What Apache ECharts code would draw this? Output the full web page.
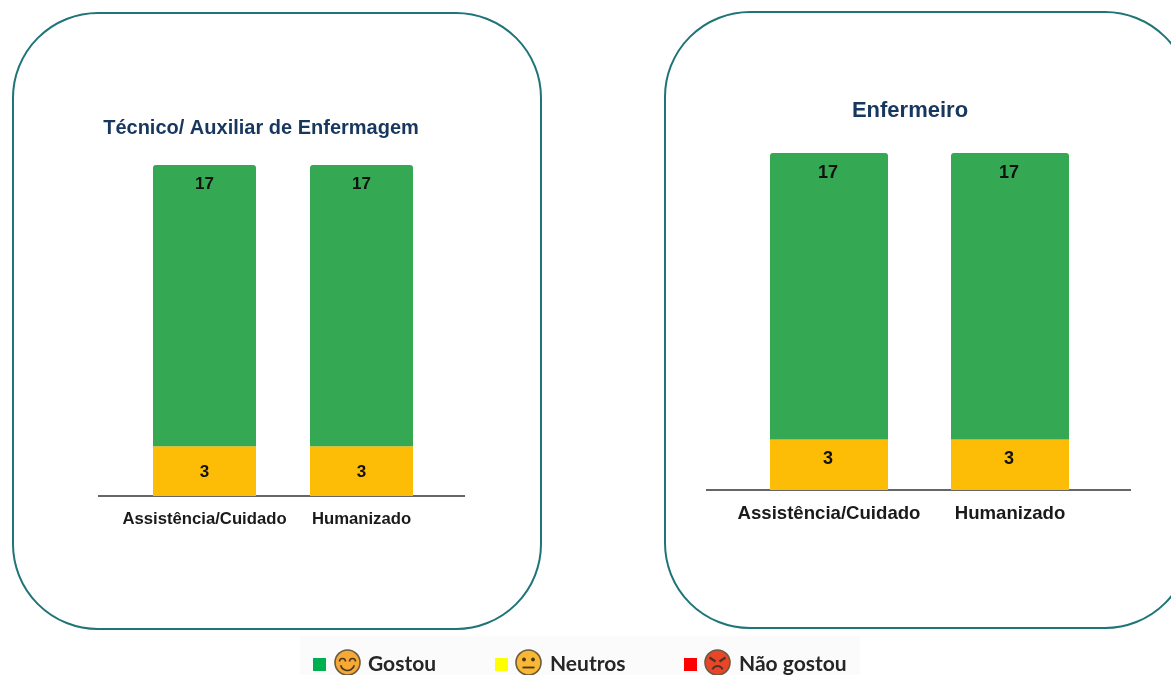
<!DOCTYPE html>
<html><head><meta charset="utf-8">
<style>html,body{margin:0;padding:0;background:#fff}#c{width:1171px;height:675px}</style>
<script src="https://cdn.jsdelivr.net/npm/echarts@6/dist/echarts.min.js"></script>
</head><body><div id="c"></div>
<script>
const categories = ['Assistência/Cuidado', 'Humanizado'];
const titles = ['Técnico/ Auxiliar de Enfermagem', 'Enfermeiro'];
const tecnicoGostou = [17, 17];
const tecnicoNeutros = [3, 3];
const tecnicoNaoGostou = [0, 0];
const enfermeiroGostou = [17, 17];
const enfermeiroNeutros = [3, 3];
const enfermeiroNaoGostou = [0, 0];
const legendNames = ['Gostou', 'Neutros', 'Não gostou'];

const GREEN = '#34a853', AMBER = '#fdbc05';
const panels = [
  {grid:{left:126,width:314,top:165,height:331}, bar:103, font:16.7, lab:17, margin:15, neutralOffset:[0,1], topOffset:[0,0], title:{x:256,y:123,size:20},
   data:[tecnicoNeutros,tecnicoGostou,tecnicoNaoGostou], labelDist:11, base:[98,465,496]},
  {grid:{left:738.5,width:362,top:153,height:337}, bar:118, font:18.6, lab:18, margin:14, neutralOffset:[-1,-6], topOffset:[-1,0], title:{x:905,y:106,size:22},
   data:[enfermeiroNeutros,enfermeiroGostou,enfermeiroNaoGostou], labelDist:11, base:[706,1131,490]}
];

const series = [];
panels.forEach((p,i)=>{
  const common = {type:'bar',stack:'s'+i,xAxisIndex:i,yAxisIndex:i,barWidth:p.bar,silent:true};
  const lab = {show:true,color:'#111',fontFamily:'Liberation Sans',fontWeight:'bold',fontSize:p.lab};
  series.push({...common,name:legendNames[1],data:p.data[0],itemStyle:{color:AMBER},
    label:{...lab,position:'inside',offset:p.neutralOffset}});
  series.push({...common,name:legendNames[0],data:p.data[1],itemStyle:{color:GREEN,borderRadius:[3,3,0,0]},
    label:{...lab,position:'insideTop',distance:p.labelDist,offset:p.topOffset}});
  series.push({...common,name:legendNames[2],data:p.data[2],itemStyle:{color:'#ff0000'},label:{show:false}});
});

const legendFont = {fontFamily:'Lato',fontWeight:'bold',fontSize:21,color:'#262626',padding:[0,0,0,37]};
const mkLegend = (name,color,left)=>({
  left, top:649, itemWidth:13, itemHeight:13, icon:'rect', selectedMode:false, itemGap:0,
  data:[{name,itemStyle:{color}}], textStyle:legendFont
});

function face(cx,cy,fill,kind){
  const dark='#4a3420';
  const stroke={stroke:dark,lineWidth:1.6,fill:'none'};
  const ch=[{type:'circle',shape:{cx,cy,r:12.5},style:{fill,stroke:'#6b5a3e',lineWidth:1.6}}];
  if(kind==='happy'){
    ch.push({type:'arc',shape:{cx:cx-5,cy:cy-1,r:3,startAngle:Math.PI,endAngle:2*Math.PI},style:stroke});
    ch.push({type:'arc',shape:{cx:cx+5,cy:cy-1,r:3,startAngle:Math.PI,endAngle:2*Math.PI},style:stroke});
    ch.push({type:'arc',shape:{cx,cy:cy+1,r:7,startAngle:0.25,endAngle:Math.PI-0.25},style:stroke});
  } else if(kind==='neutral'){
    ch.push({type:'circle',shape:{cx:cx-4.5,cy:cy-3,r:1.9},style:{fill:dark}});
    ch.push({type:'circle',shape:{cx:cx+4.5,cy:cy-3,r:1.9},style:{fill:dark}});
    ch.push({type:'line',shape:{x1:cx-6,y1:cy+5,x2:cx+6,y2:cy+5},style:{stroke:dark,lineWidth:1.8}});
  } else {
    ch.push({type:'line',shape:{x1:cx-8,y1:cy-5,x2:cx-2,y2:cy-1},style:{stroke:dark,lineWidth:2.2}});
    ch.push({type:'line',shape:{x1:cx+8,y1:cy-5,x2:cx+2,y2:cy-1},style:{stroke:dark,lineWidth:2.2}});
    ch.push({type:'arc',shape:{cx,cy:cy+9,r:5.5,startAngle:Math.PI+0.4,endAngle:2*Math.PI-0.4},style:{stroke:dark,lineWidth:2,fill:'none'}});
  }
  return {type:'group',silent:true,children:ch};
}

const frame=(x,y,w,h)=>({type:'rect',z:-1,silent:true,shape:{x,y,width:w,height:h,r:85},
  style:{fill:'none',stroke:'#1f7478',lineWidth:2}});

const graphic = [
  {type:'rect',z:-2,silent:true,shape:{x:300,y:636,width:560,height:39},style:{fill:'#fbfbfb'}},
  frame(13,13,528,616), frame(665,12,525,616),
  ...panels.map(p=>({type:'line',z:1,silent:true,shape:{x1:p.base[0],y1:p.base[2],x2:p.base[1],y2:p.base[2]},
    style:{stroke:'#666',lineWidth:2}})),
  face(347.5,662.5,'#f6a935','happy'),
  face(528.5,662.5,'#f8b833','neutral'),
  face(717.5,662.5,'#e8452a','angry')
];

const chart = echarts.init(document.getElementById('c'),null,{renderer:'canvas'});
chart.setOption({
  animation:false,
  backgroundColor:'#fff',
  title:panels.map((p,i)=>({text:titles[i],left:p.title.x,top:p.title.y,textAlign:'center',textVerticalAlign:'middle',
    textStyle:{fontFamily:'Liberation Sans',fontWeight:'bold',fontSize:p.title.size,color:'#17375e'}})),
  grid:panels.map(p=>p.grid),
  xAxis:panels.map((p,i)=>({type:'category',gridIndex:i,data:categories,
    axisLine:{show:false},axisTick:{show:false},
    axisLabel:{interval:0,color:'#1a1a1a',fontFamily:'Liberation Sans',fontWeight:'bold',fontSize:p.font,margin:p.margin}})),
  yAxis:panels.map((p,i)=>({type:'value',gridIndex:i,min:0,max:20,show:false,splitLine:{show:false}})),
  legend:[mkLegend(legendNames[0],'#00b050',308),mkLegend(legendNames[1],'#ffff00',490),mkLegend(legendNames[2],'#ff0000',679)],
  graphic,
  series
});
</script></body></html>
